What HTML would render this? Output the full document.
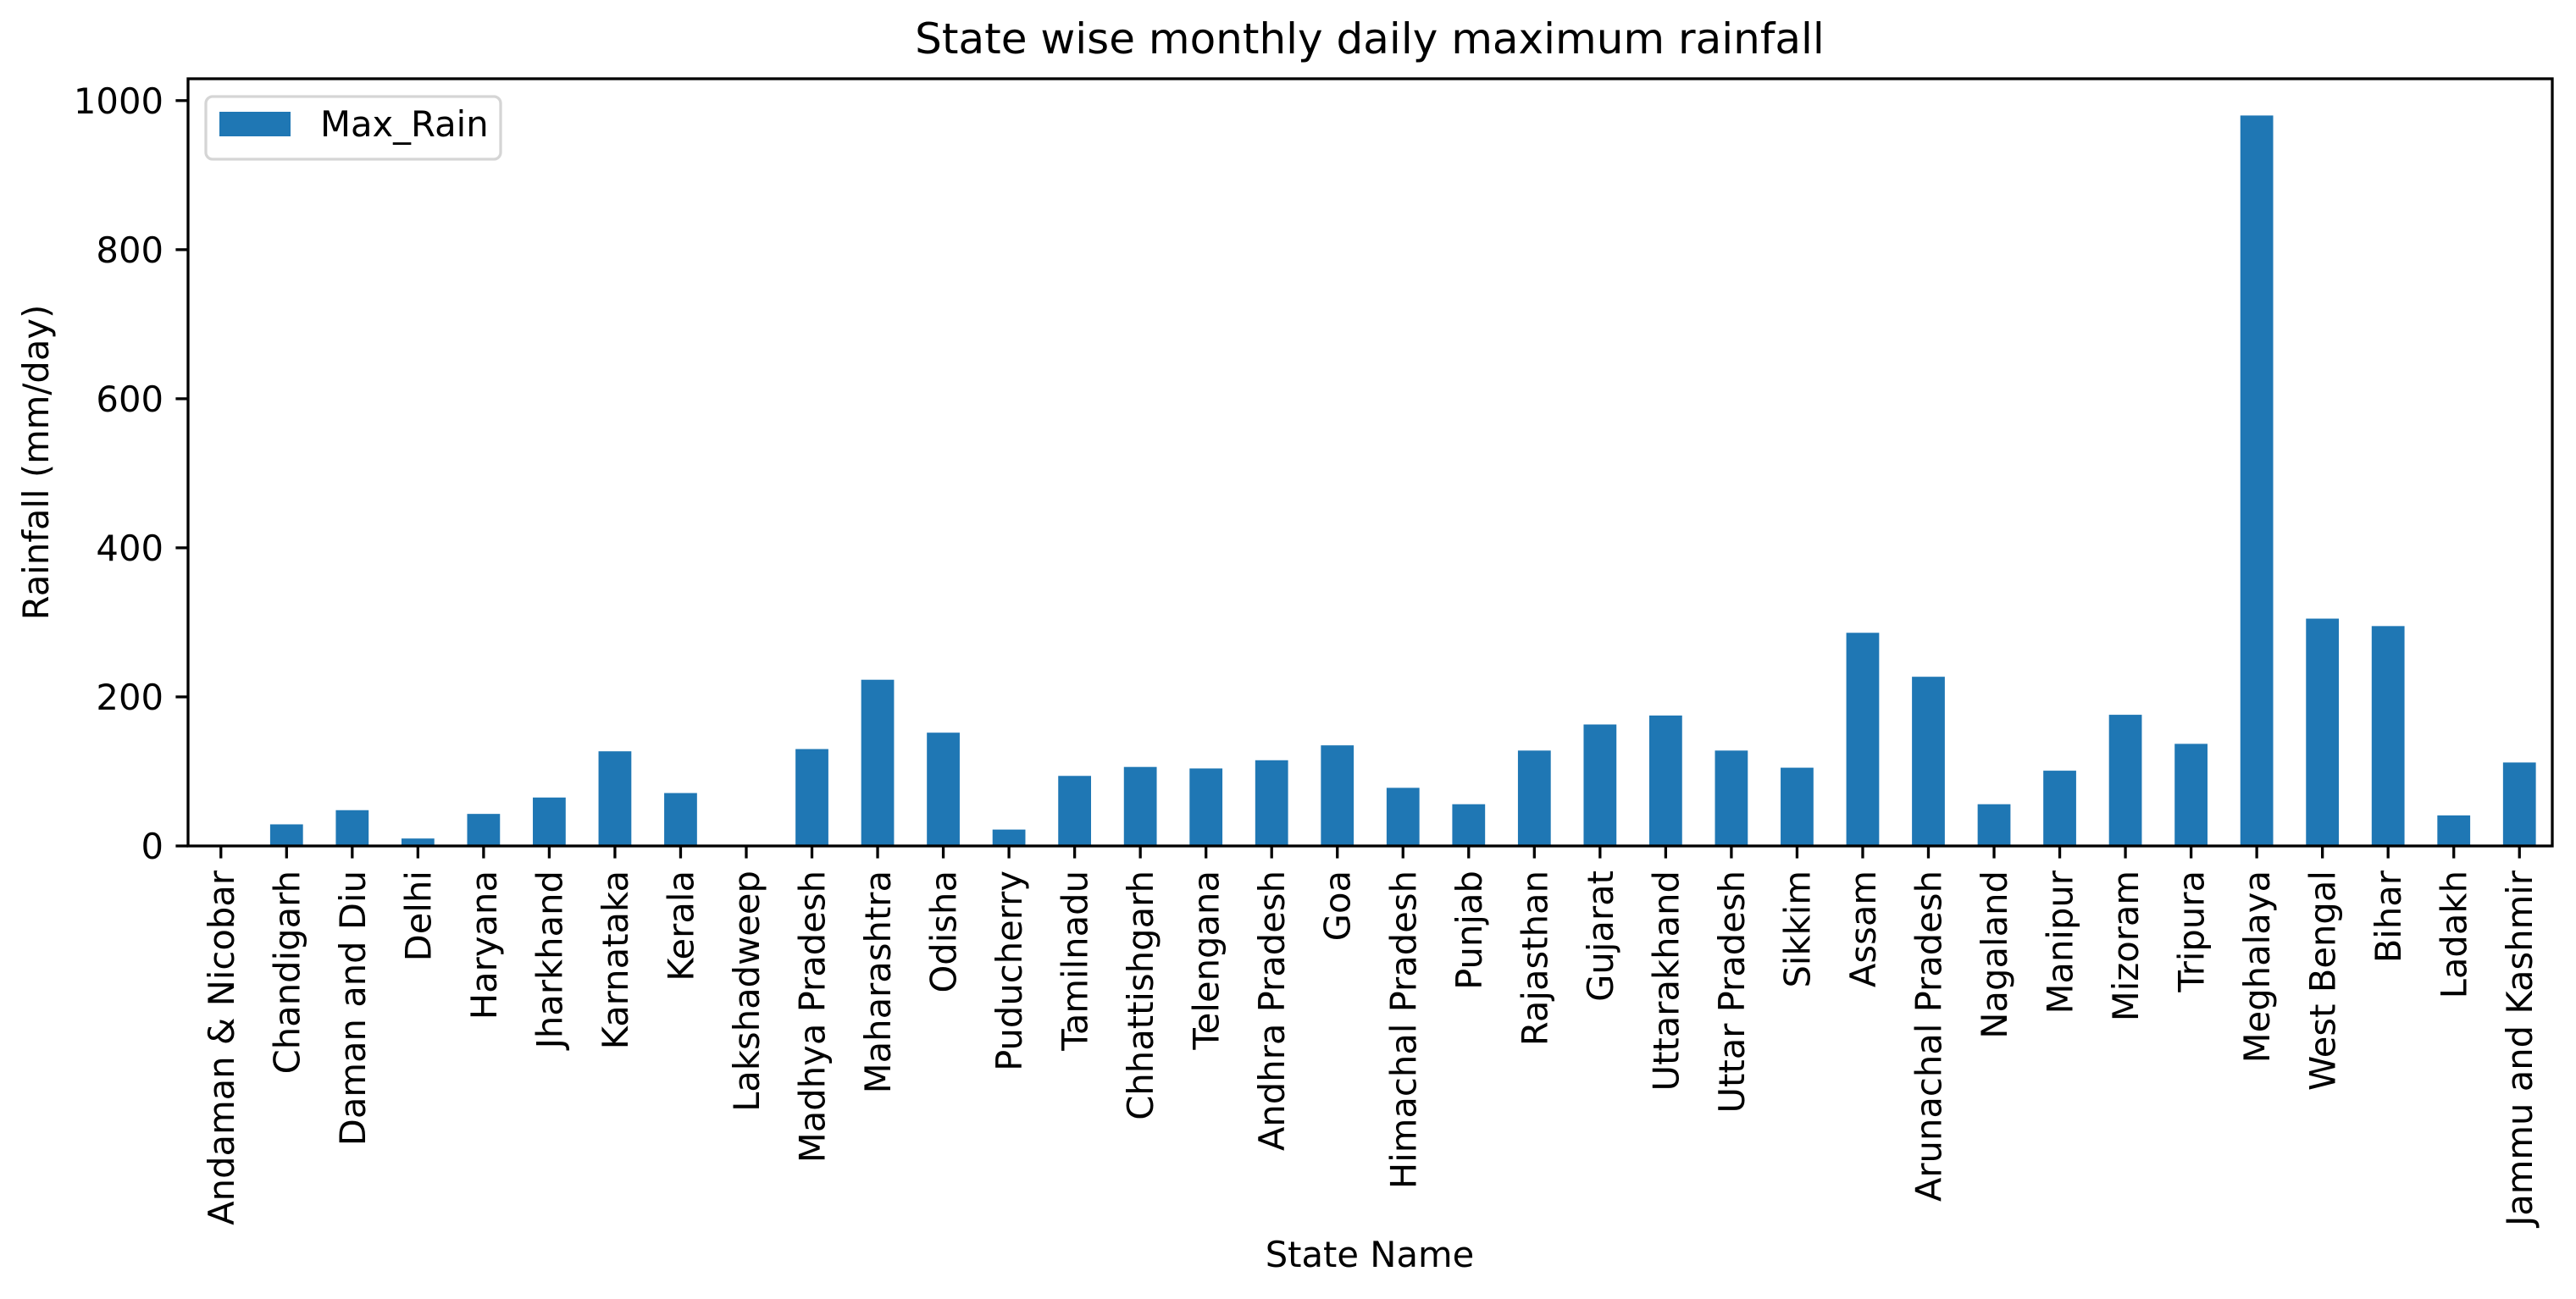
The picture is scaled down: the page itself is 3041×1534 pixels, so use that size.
<!DOCTYPE html>
<html><head><meta charset="utf-8"><style>
html,body{margin:0;padding:0;background:#fff}
svg{display:block;font-family:"DejaVu Sans","Liberation Sans",sans-serif}
</style></head><body>
<svg id="chart" width="3041" height="1534" viewBox="0 0 3041 1534" xmlns="http://www.w3.org/2000/svg">
<rect width="3041" height="1534" fill="#fff"/>
<text x="1617" y="63" font-size="50" text-anchor="middle">State wise monthly daily maximum rainfall</text>
<g id="bars"></g>
<g id="xticks"></g>
<g id="yticks"></g>
<rect x="222" y="93" width="2791" height="906" fill="none" stroke="#000" stroke-width="3.3"/>
<text x="1617" y="1496" font-size="41.7" text-anchor="middle">State Name</text>
<text transform="translate(57,546) rotate(-90)" font-size="41.7" text-anchor="middle">Rainfall (mm/day)</text>
<g>
<rect x="243" y="114" width="348" height="74" rx="8" fill="#fff" fill-opacity="0.8" stroke="#d5d5d5" stroke-width="3.3"/>
<rect x="259" y="132" width="84" height="29" fill="#1f77b4"/>
<text x="378" y="161" font-size="41.7">Max_Rain</text>
</g>
</svg>
<script>
const categories = ["Andaman & Nicobar","Chandigarh","Daman and Diu","Delhi","Haryana","Jharkhand","Karnataka","Kerala","Lakshadweep","Madhya Pradesh","Maharashtra","Odisha","Puducherry","Tamilnadu","Chhattishgarh","Telengana","Andhra Pradesh","Goa","Himachal Pradesh","Punjab","Rajasthan","Gujarat","Uttarakhand","Uttar Pradesh","Sikkim","Assam","Arunachal Pradesh","Nagaland","Manipur","Mizoram","Tripura","Meghalaya","West Bengal","Bihar","Ladakh","Jammu and Kashmir"];
const maxRain = [0,29,48,10,43,65,127,71,0,130,223,152,22,94,106,104,115,135,78,56,128,163,175,128,105,286,227,56,101,176,137,980,305,295,41,112];
const yTicks = [0,200,400,600,800,1000];
const yTickLabels = ["0","200","400","600","800","1000"];

const NS = "http://www.w3.org/2000/svg";
const L = 222, R = 3013, T = 93, B = 999;
const yMax = 1029.3;
function xScale(i){ return L + (i + 0.5) * (R - L) / categories.length; }
function yScale(v){ return B - v * (B - T) / yMax; }
const bw = 0.5 * (R - L) / categories.length;
function mk(tag, attrs){ const e = document.createElementNS(NS, tag); for (const k in attrs) e.setAttribute(k, attrs[k]); return e; }

const bars = document.getElementById('bars');
const xt = document.getElementById('xticks');
categories.forEach((c, i) => {
  const v = maxRain[i];
  const r = mk('rect', {x: xScale(i) - bw/2, y: yScale(v), width: bw, height: B - yScale(v), fill: '#1f77b4'});
  
  
  bars.appendChild(r);
  const t = mk('line', {x1: xScale(i), x2: xScale(i), y1: B, y2: B + 14.6, stroke: '#000', 'stroke-width': 3.3});
  
  
  xt.appendChild(t);
  const lb = mk('text', {transform: 'translate(' + (xScale(i) + 15) + ',1028) rotate(-90)', 'font-size': 41.7, 'text-anchor': 'end'});
  lb.textContent = c;
  
  
  xt.appendChild(lb);
});
const yt = document.getElementById('yticks');
yTicks.forEach((v, i) => {
  const t = mk('line', {x1: L - 14.6, x2: L, y1: yScale(v), y2: yScale(v), stroke: '#000', 'stroke-width': 3.3});
  
  
  yt.appendChild(t);
  const lb = mk('text', {x: L - 29, y: yScale(v) + 15, 'font-size': 41.7, 'text-anchor': 'end'});
  lb.textContent = yTickLabels[i];
  
  
  yt.appendChild(lb);
});
</script>
</body></html>
